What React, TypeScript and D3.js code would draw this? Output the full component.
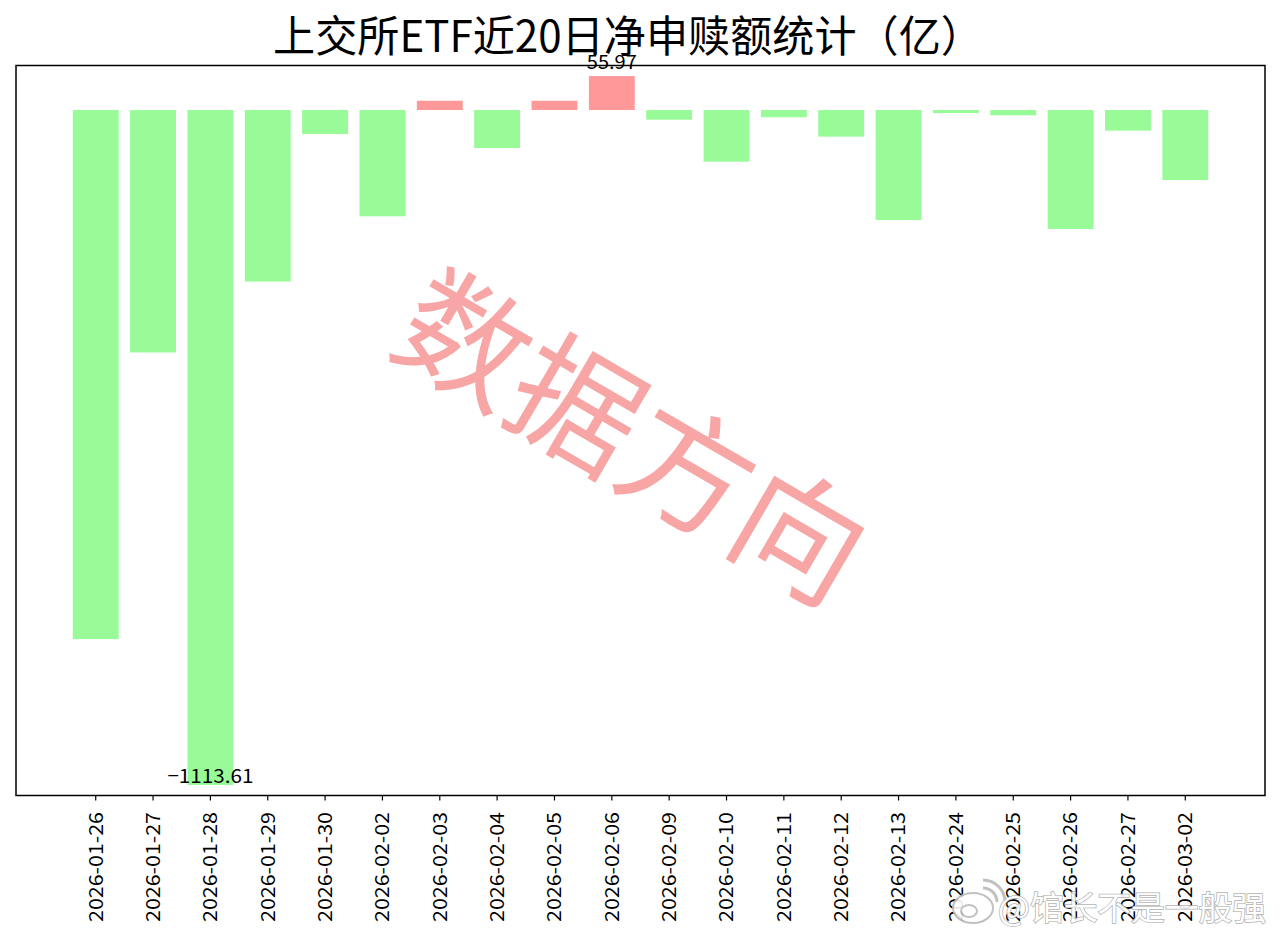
import React from "react";
import * as d3 from "d3";

// 上交所ETF近20日净申赎额（亿）
const dates = [
  "2026-01-26", "2026-01-27", "2026-01-28", "2026-01-29", "2026-01-30",
  "2026-02-02", "2026-02-03", "2026-02-04", "2026-02-05", "2026-02-06",
  "2026-02-09", "2026-02-10", "2026-02-11", "2026-02-12", "2026-02-13",
  "2026-02-24", "2026-02-25", "2026-02-26", "2026-02-27", "2026-03-02",
];
const netFlows = [
  -873, -400, -1113.61, -283, -39.6,
  -175.4, 15.3, -62.7, 15.3, 55.97,
  -16, -85.3, -12, -44, -181.5,
  -5, -8.8, -196.3, -34.1, -115.5,
];
const yDomain = [-1131, 73.4];

const W = 1280;
const H = 939;
const left = 16;
const right = 1265;
const top = 65.5;
const bottom = 795.5;

const GREEN = "#98fb98";
const RED = "#ff9999";
const FONT = "'Noto Sans CJK SC', 'Noto Sans', sans-serif";

// matplotlib style minus sign
const fmt = (v: number) => v.toFixed(2).replace("-", "\u2212");

export default function App() {
  const x = d3
    .scaleBand<string>()
    .domain(dates)
    .range([left, right])
    .paddingInner(0.2)
    .paddingOuter(0.99);
  const y = d3.scaleLinear().domain(yDomain).range([bottom, top]);

  const maxIdx = d3.maxIndex(netFlows);
  const minIdx = d3.minIndex(netFlows);

  return (
    <svg
      width={W}
      height={H}
      style={{ position: "absolute", left: 0, top: 0, background: "#fff" }}
      fontFamily={FONT}
    >
      <rect x={0} y={0} width={W} height={H} fill="#fff" />

      <text
        x={628}
        y={52}
        fontSize={43}
        textAnchor="middle"
        textLength={710}
        lengthAdjust="spacingAndGlyphs"
        fill="#000"
      >
        上交所ETF近20日净申赎额统计（亿）
      </text>

      {netFlows.map((v, i) => {
        const y0 = y(0);
        const y1 = y(v);
        return (
          <rect
            key={dates[i]}
            x={x(dates[i])!}
            width={x.bandwidth()}
            y={Math.min(y0, y1)}
            height={Math.abs(y1 - y0)}
            fill={v >= 0 ? RED : GREEN}
          />
        );
      })}

      {[maxIdx, minIdx].map((i) => {
        const v = netFlows[i];
        const cx = x(dates[i])! + x.bandwidth() / 2;
        return (
          <text
            key={"lbl" + i}
            x={cx}
            y={v >= 0 ? y(v) - 7 : y(v) - 2}
            fontSize={19}
            textAnchor="middle"
            textLength={v >= 0 ? 50 : 86}
            lengthAdjust="spacingAndGlyphs"
            fill="#000"
          >
            {fmt(v)}
          </text>
        );
      })}

      <text
        transform="translate(637,430) rotate(30.2)"
        fontSize={129}
        textAnchor="middle"
        dominantBaseline="central"
        fill="#f7a1a1"
        opacity={0.95}
      >
        数据方向
      </text>

      <rect
        x={left}
        y={top}
        width={right - left}
        height={bottom - top}
        fill="none"
        stroke="#000"
        strokeWidth={1.5}
      />

      {dates.map((d) => {
        const cx = x(d)! + x.bandwidth() / 2;
        return (
          <g key={"t" + d}>
            <line x1={cx} x2={cx} y1={bottom} y2={bottom + 5} stroke="#000" strokeWidth={1.2} />
            <text
              transform={`translate(${cx},812) rotate(-90)`}
              fontSize={19}
              textAnchor="end"
              dy="0.36em"
              textLength={110}
              lengthAdjust="spacingAndGlyphs"
              fill="#000"
            >
              {d}
            </text>
          </g>
        );
      })}

      <g opacity={0.9}>
        <ellipse cx={973} cy={908} rx={20} ry={15} fill="#fff" stroke="#bbb" strokeWidth={2} />
        <ellipse cx={969} cy={911} rx={8} ry={6} fill="none" stroke="#bbb" strokeWidth={2} />
        <path d="M983,888 A14,14 0 0 1 997,902" fill="none" stroke="#bbb" strokeWidth={3} />
        <path d="M983,880 A22,22 0 0 1 1005,902" fill="none" stroke="#bbb" strokeWidth={3} />
        <text
          x={998}
          y={920}
          fontSize={33}
          textLength={268}
          lengthAdjust="spacingAndGlyphs"
          fill="#fff"
          stroke="#aaa"
          strokeWidth={1.5}
          paintOrder="stroke"
        >
          @馆长不是一般强
        </text>
      </g>
    </svg>
  );
}
